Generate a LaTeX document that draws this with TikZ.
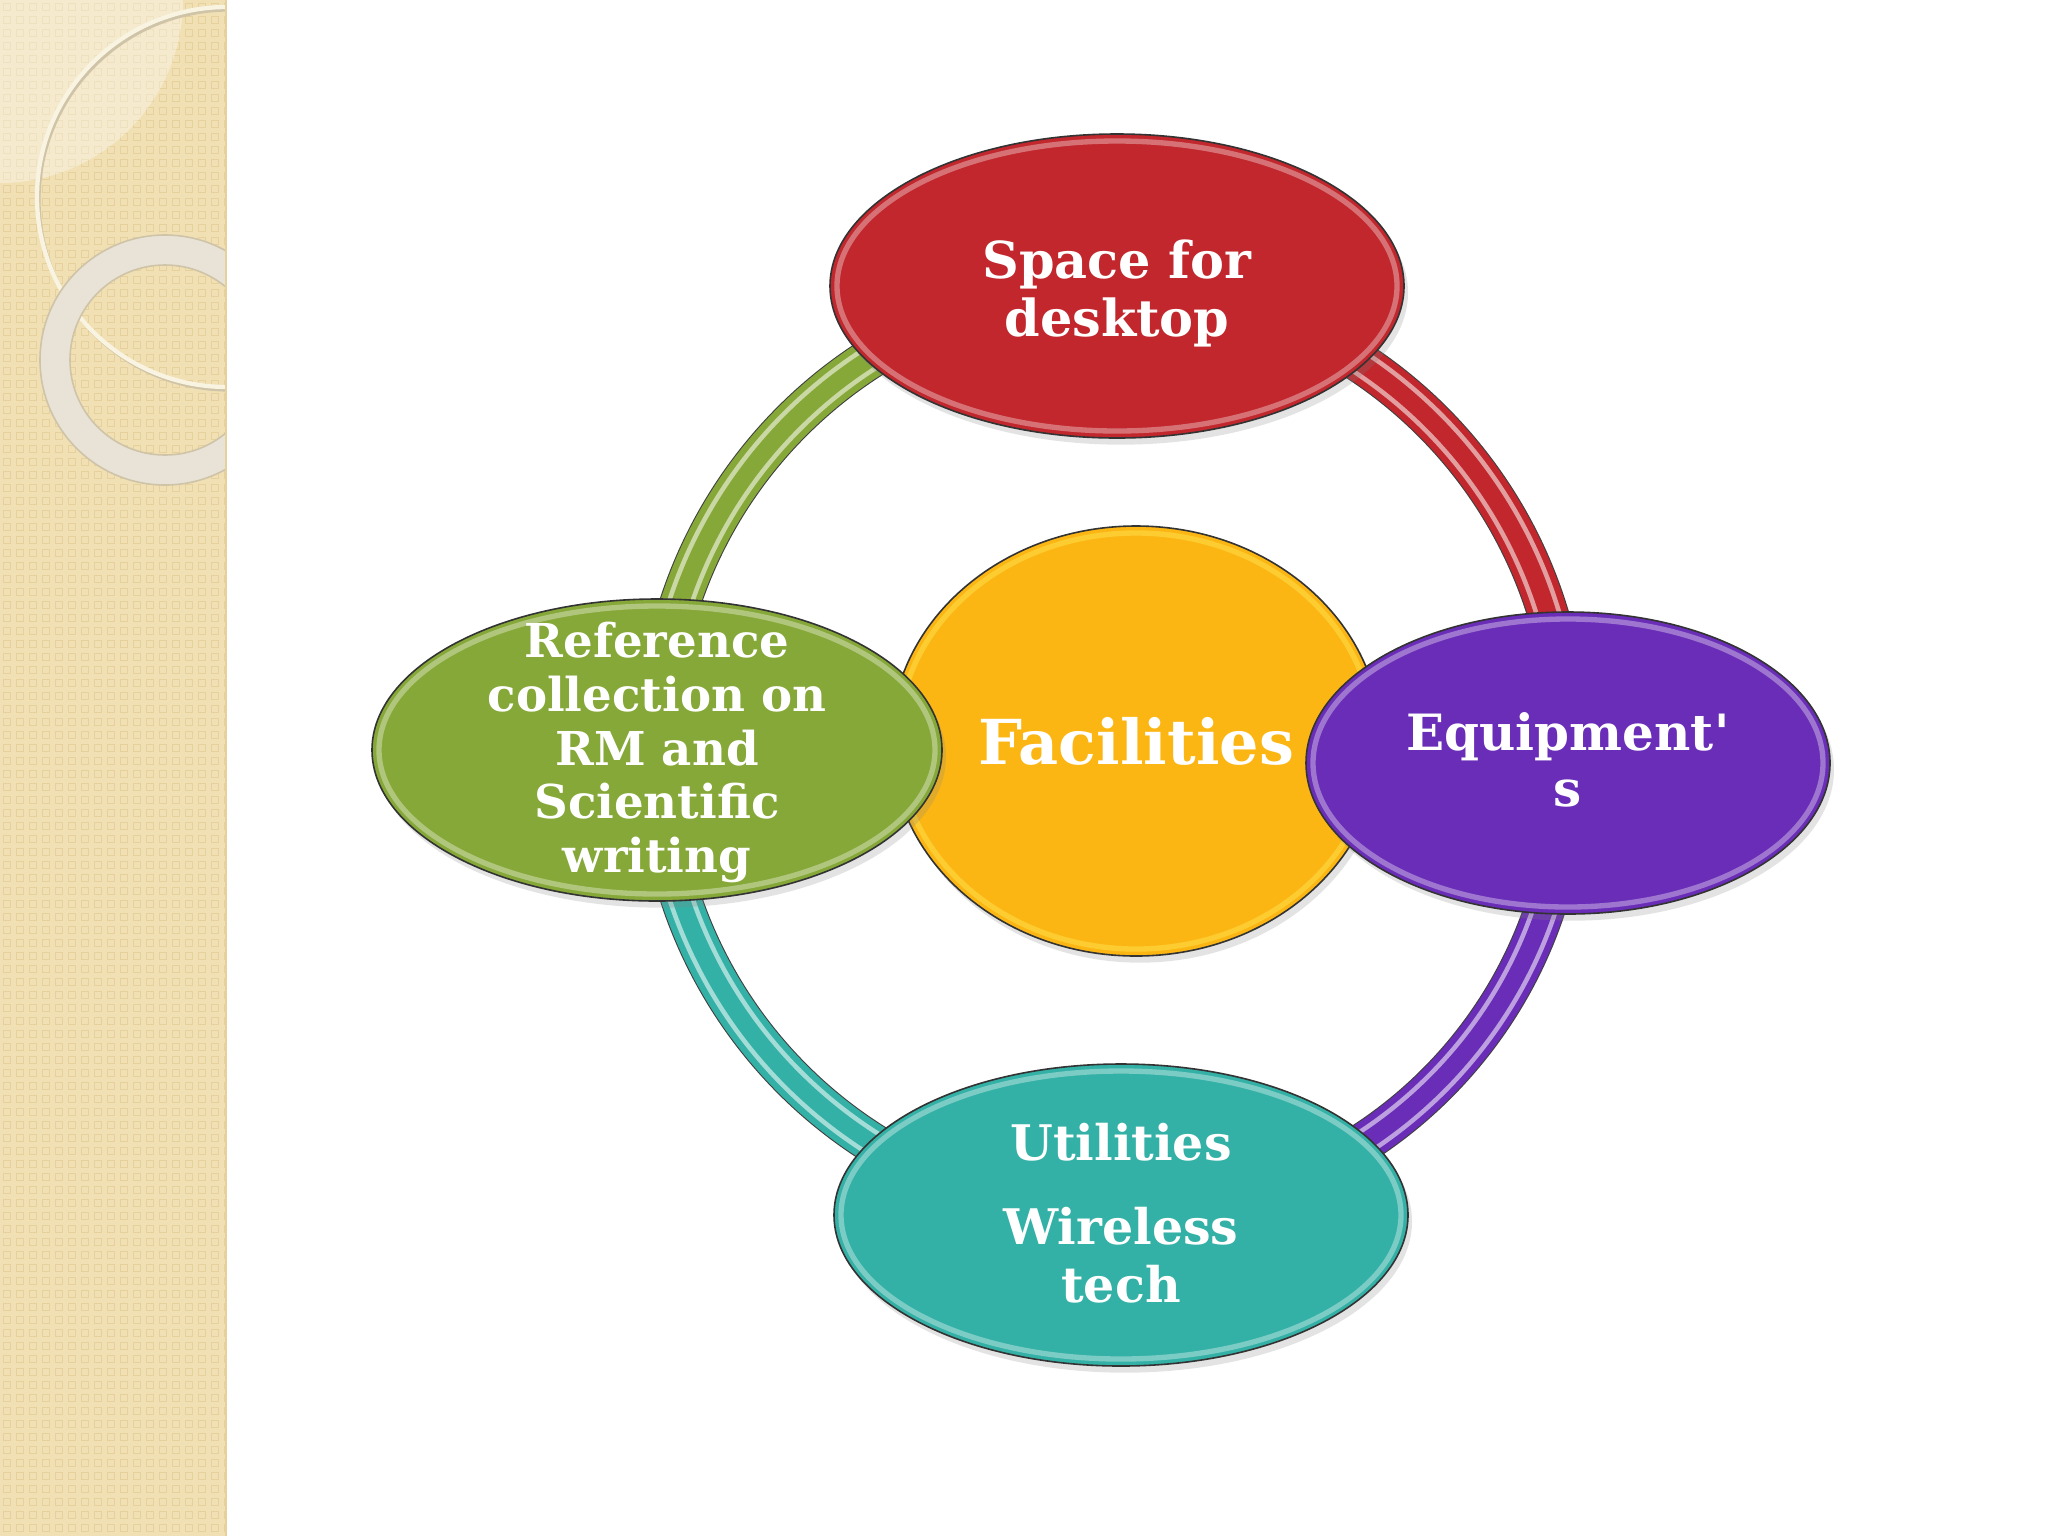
\documentclass[tikz,border=0pt]{standalone}
\usepackage{fontspec}
\setmainfont{DejaVu Serif}[Ligatures=TeXOff]
\usetikzlibrary{shapes.geometric,shadows}
\definecolor{cred}{HTML}{C1272D}
\definecolor{cgold}{HTML}{FCB614}
\definecolor{cpurple}{HTML}{6A2DB8}
\definecolor{cgreen}{HTML}{86A838}
\definecolor{cteal}{HTML}{34B1A6}
\definecolor{cband}{HTML}{F1E0B4}
\definecolor{cbanddark}{HTML}{E6D19C}
\definecolor{cringc}{HTML}{E8E3D6}
\definecolor{cringedge}{HTML}{CFC4A8}
\pgfdeclarelayer{bg}
\pgfdeclarelayer{tubes}
\pgfsetlayers{bg,tubes,main}
\tikzset{
  blob/.style={ellipse, draw=black!80, line width=0.6pt, inner sep=0pt, fill=#1,
    drop shadow={opacity=.22, shadow xshift=1.5pt, shadow yshift=-2.5pt}},
  rim/.style={draw=white, opacity=.35, line width=2pt},
  txt/.style={text=white, align=center, inner sep=0pt},
  tubeout/.style={draw=black!75, line width=15.5pt},
  tubebase/.style={draw=#1, line width=14.7pt},
  tubelight/.style={draw=#1!45!white, line width=10pt},
  tubemid/.style={draw=#1, line width=6.5pt}
}
\newcommand\tubeseg[3]{%
  \draw[tubeout] (#1.center) to[bend left=45] (#2.center);
  \draw[tubebase=#3] (#1.center) to[bend left=45] (#2.center);
  \draw[tubelight=#3] (#1.center) to[bend left=45] (#2.center);
  \draw[tubemid=#3] (#1.center) to[bend left=45] (#2.center);
}
\begin{document}
\begin{tikzpicture}[x=0.375pt,y=-0.375pt]
\useasboundingbox (0,0) rectangle (2048,1536);
\begin{pgfonlayer}{bg}
  \fill[white] (0,0) rectangle (2048,1536);
  \fill[cband] (0,0) rectangle (226,1536);
  \begin{scope}
    \clip (0,0) rectangle (226,1536);
    \foreach \i in {0,...,17}{
      \foreach \j in {0,...,118}{
        \draw[cbanddark, line width=0.35pt] (\i*13+3,\j*13+3) rectangle ++(7,7);
      }
    }
    \fill[white, opacity=.35] (0,0) -- (183,0) arc[start angle=0, end angle=90, radius=183] -- cycle;
    \draw[cringedge, line width=1.2pt] (229,200) circle[radius=190];
    \draw[white!60!cband, line width=1.6pt] (227,197) circle[radius=190];
    \draw[cringc, line width=11.25pt] (165,360) circle[radius=110];
    \draw[cringedge, line width=0.6pt] (165,360) circle[radius=125];
    \draw[cringedge, line width=0.6pt] (165,360) circle[radius=95];
  \end{scope}
  \draw[cbanddark, line width=0.8pt] (226,0) -- (226,1536);
\end{pgfonlayer}

% centre
\node[blob=cgold, minimum width=183.75pt, minimum height=161.25pt] (core) at (1136,741) {};
\draw[rim, draw=yellow!60!white] (core.center) ellipse[x radius=238, y radius=208];
\node[txt, anchor=base, font=\fontsize{23.25}{28}\selectfont\bfseries] (coretxt) at (1136,764) {Facilities};

% outer ellipses
\node[blob=cred, minimum width=215.25pt, minimum height=114pt] (red) at (1117,286) {};
\draw[rim] (red.center) ellipse[x radius=280, y radius=145];
\node[txt, font=\fontsize{19.1}{21.75}\selectfont\bfseries] (redtxt) at (1117,293.5) {Space for\\desktop};

\node[blob=cgreen, minimum width=213.75pt, minimum height=113.25pt] (green) at (657,750) {};
\draw[rim] (green.center) ellipse[x radius=278, y radius=144];
\node[txt, font=\fontsize{17.5}{20.1}\selectfont\bfseries] (greentxt) at (657,752.5) {Reference\\collection on\\RM and\\Scientific\\writing};

\node[blob=cpurple, minimum width=196.5pt, minimum height=113.25pt] (purple) at (1568,763) {};
\draw[rim] (purple.center) ellipse[x radius=255, y radius=144];
\node[txt, font=\fontsize{18.75}{21}\selectfont\bfseries] (purpletxt) at (1568,760) {Equipment'\\s};

\node[blob=cteal, minimum width=215.25pt, minimum height=113.25pt] (teal) at (1121,1215) {};
\draw[rim] (teal.center) ellipse[x radius=280, y radius=144];
\node[txt, font=\fontsize{18.4}{21.75}\selectfont\bfseries] (tealtxt) at (1121,1213.5) {Utilities\\[9.75pt]Wireless\\tech};

\begin{pgfonlayer}{tubes}
  \tubeseg{red}{purple}{cred}
  \tubeseg{purple}{teal}{cpurple}
  \tubeseg{teal}{green}{cteal}
  \tubeseg{green}{red}{cgreen}
\end{pgfonlayer}
\end{tikzpicture}
\end{document}
